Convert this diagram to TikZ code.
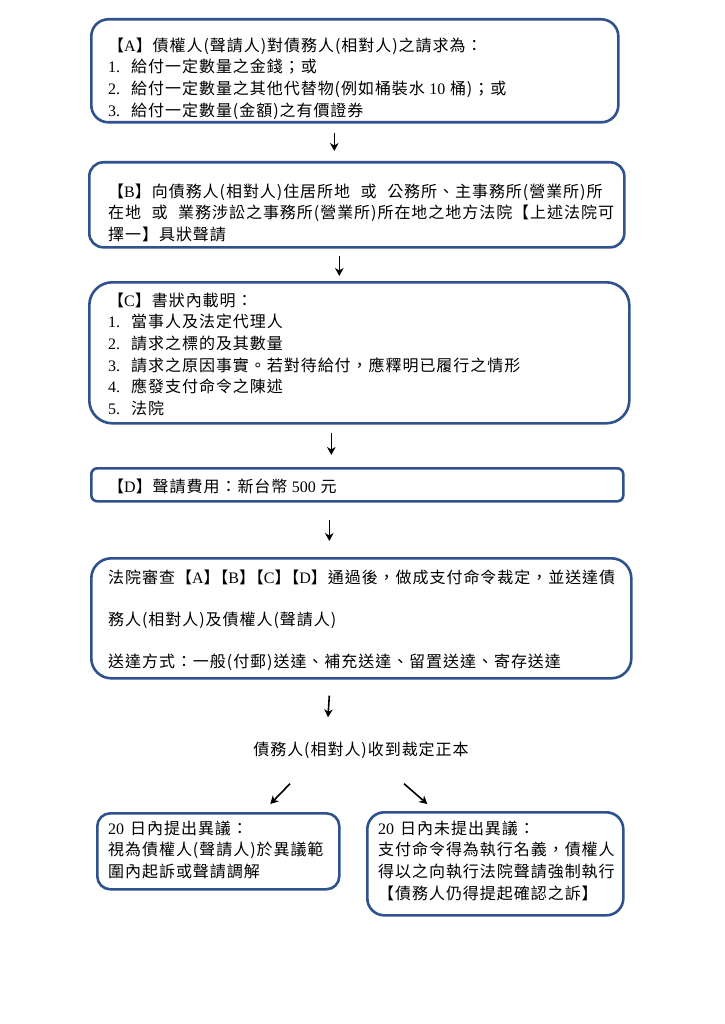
\documentclass[tikz,border=0pt]{standalone}
\usepackage{fontspec}
\usetikzlibrary{arrows.meta,calc}
\newfontfamily\cjk[LetterSpace=6]{Noto Sans CJK TC}
\newfontfamily\lat{Liberation Serif}
\definecolor{bx}{RGB}{47,82,143}
\newcommand\ltn[1]{{\lat #1}}
\newcommand\numb[1]{\makebox[23pt][l]{\lat #1.}}
\newcommand\bkern{\kern-0.45em}
\tikzset{
  box/.style={draw=bx, line width=2.6pt, rectangle, inner sep=0pt, anchor=north west},
  txt/.style={anchor=north west, inner sep=0pt, align=left, font=\cjk\fontsize{16}{21.6}\selectfont},
  arr/.style={line width=1.6pt, -{Stealth[length=8pt,width=8.5pt,inset=2.5pt]}}
}
\begin{document}
\begin{tikzpicture}[x=1pt,y=-1pt]
\useasboundingbox[fill=white] (0,0) rectangle (724,1024);
% boxes
\node[box, minimum width=527pt, minimum height=103pt, rounded corners=17pt] (A) at (90,18) {};
\node[box, minimum width=535pt, minimum height=85pt, rounded corners=14pt] (B) at (88,161) {};
\node[box, minimum width=540pt, minimum height=141pt, rounded corners=23pt] (C) at (88,281) {};
\node[box, minimum width=532pt, minimum height=33pt, rounded corners=6pt] (D) at (90,467) {};
\node[box, minimum width=540pt, minimum height=120pt, rounded corners=20pt] (E) at (90,557) {};
\node[box, minimum width=242pt, minimum height=76pt, rounded corners=13pt] (F) at (96,812) {};
\node[box, minimum width=256pt, minimum height=103pt, rounded corners=17pt] (G) at (366,811) {};
% texts
\node[txt] (At) at (108,36) {\strut【\ltn{A}】債權人(聲請人)對債務人(相對人)之請求為：\\
\numb{1}給付一定數量之金錢；或\\
\numb{2}給付一定數量之其他代替物(例如桶裝水 \ltn{10} 桶)；或\\
\numb{3}給付一定數量(金額)之有價證券};
\node[txt] (Bt) at (108,182) {\strut【\ltn{B}】向債務人(相對人)住居所地\hspace{6pt} 或\hspace{6pt} 公務所、主事務所(營業所)所\\
在地\hspace{6pt} 或\hspace{6pt} 業務涉訟之事務所(營業所)所在地之地方法院【上述法院可\\
擇一】具狀聲請};
\node[txt] (Ct) at (108,291) {\strut【\ltn{C}】書狀內載明：\\
\numb{1}當事人及法定代理人\\
\numb{2}請求之標的及其數量\\
\numb{3}請求之原因事實。若對待給付，應釋明已履行之情形\\
\numb{4}應發支付命令之陳述\\
\numb{5}法院};
\node[txt] (Dt) at (108,477) {\strut【\ltn{D}】聲請費用：新台幣 \ltn{500} 元};
\node[txt] (Et) at (108,568) {\strut 法院審查【\ltn{A}】\bkern【\ltn{B}】\bkern【\ltn{C}】\bkern【\ltn{D}】通過後，做成支付命令裁定，並送達債\\[20.4pt]
務人(相對人)及債權人(聲請人)\\[20.4pt]
送達方式：一般(付郵)送達、補充送達、留置送達、寄存送達};
\node[txt, anchor=center, text height=14pt, text depth=3pt] (R) at (361,750) {債務人(相對人)收到裁定正本};
\node[txt] (Ft) at (108,819) {\strut\ltn{20}\hspace{6pt}日內提出異議：\\
視為債權人(聲請人)於異議範\\
圍內起訴或聲請調解};
\node[txt] (Gt) at (378,819) {\strut\ltn{20}\hspace{6pt}日內未提出異議：\\
支付命令得為執行名義，債權人\\
得以之向執行法院聲請強制執行\\
【債務人仍得提起確認之訴】};
% arrows
\draw[arr] ($(A.south)+(-20.5,9)$) -- ($(B.north)+(-22.5,-10)$);
\draw[arr] ($(B.south)+(-17.5,7)$) -- ($(C.north)+(-20,-5)$);
\draw[arr] ($(C.south)+(-28,8)$) -- ($(D.north)+(-26,-12)$);
\draw[arr] ($(D.south)+(-28,17)$) -- ($(E.north)+(-32,-16)$);
\draw[arr] ($(E.south)+(-32,16)$) -- ($(R.north)+(-33,-24)$);
\draw[arr] ($(R.south)+(-71,25)$) -- ($(F.north)+(52,-8)$);
\draw[arr] ($(R.south)+(43,25)$) -- ($(G.north)+(-68,-7)$);
\end{tikzpicture}
\end{document}
